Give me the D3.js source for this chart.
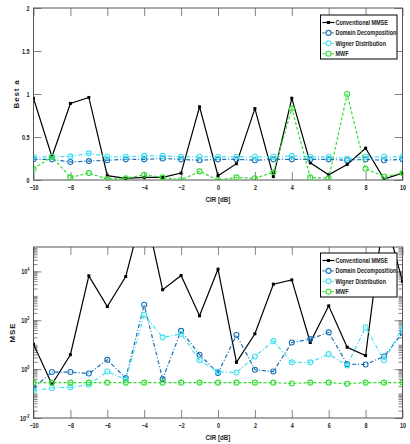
<!DOCTYPE html>
<html>
<head>
<meta charset="utf-8">
<script src="https://cdn.jsdelivr.net/npm/d3@7"></script>
<style>
body { margin: 0; background: #fff; }
svg { display: block; }
text { font-family: "Liberation Sans", Arial, sans-serif; font-weight: bold; fill: #222; }
.tick text { font-size: 7px; }
.lbl { font-size: 8px; }
.leg text { font-size: 7px; }
</style>
</head>
<body>
<svg width="410" height="444"></svg>
<script>
const cir = [-10,-9,-8,-7,-6,-5,-4,-3,-2,-1,0,1,2,3,4,5,6,7,8,9,10]
const seriesNames = ["Conventional MMSE","Domain Decomposition","Wigner Distribution","MWF"]

// best a (top)
const aConv = [0.95,0.27,0.89,0.96,0.05,0.02,0.03,0.03,0.08,0.85,0.05,0.19,0.83,0.04,0.95,0.20,0.06,0.18,0.37,0.01,0.08]
const aDomain = [0.24,0.24,0.21,0.22,0.23,0.24,0.24,0.25,0.24,0.23,0.24,0.24,0.23,0.24,0.24,0.24,0.24,0.23,0.24,0.23,0.24]
const aWigner = [0.27,0.27,0.275,0.31,0.27,0.27,0.28,0.28,0.27,0.27,0.27,0.27,0.27,0.27,0.28,0.27,0.27,0.25,0.27,0.27,0.27]
const aMwf = [0.13,0.27,0.03,0.08,0.01,0.02,0.06,0.03,0.0,0.10,0.0,0.03,0.02,0.09,0.83,0.03,0.02,1.0,0.13,0.04,0.08]

// MSE (bottom)
const mseConv = [10.5,0.24,3.9,6600,365,6200,5e6,1780,6800,152,12300,1.9,28,3000,4500,12.3,390,7.9,3.6,2.5e6,3900]
const mseDomain = [0.17,0.76,0.76,0.66,2.4,0.43,430,0.39,37,3.9,0.69,25,0.94,0.8,12.3,17,32,1.6,1.55,3.3,30]
const mseWigner = [0.13,0.17,0.18,0.23,0.8,0.37,166,20,28,2.3,0.78,0.73,3.3,14,1.9,1.9,4.1,1.4,52,2.3,48]
const mseMwf = [0.28,0.28,0.28,0.28,0.28,0.28,0.28,0.28,0.28,0.28,0.28,0.28,0.28,0.28,0.26,0.28,0.28,0.25,0.28,0.28,0.28]

const xTicks = [-10,-8,-6,-4,-2,0,2,4,6,8,10]
const aTicks = [0,0.5,1,1.5,2]
const mseTicks = [1e-2,1,1e2,1e4]

const colors = ["#000000","#1670b8","#40e0f0","#30dd30"]
const dashes = [null,"4,2,1,2","4,2,1,2","3,2"]

const svg = d3.select("svg")

const x = d3.scaleLinear().domain([-10,10]).range([33.5,402.5])
const yA = d3.scaleLinear().domain([0,2]).range([180,8])
const yM = d3.scaleLog().domain([1e-2,1e5]).range([418,247])

function drawPanel(g, y, series, yTickVals, yFmt, minor, ylabel, legTop, clipId) {
    const [x0,x1] = x.range()
    const [yb,yt] = y.range()

    g.append("clipPath").attr("id",clipId)
        .append("rect").attr("x",x0).attr("y",yt).attr("width",x1-x0).attr("height",yb-yt)

    // minor ticks (log axis)
    if (minor) {
        const mins = []
        for (let e = -2; e < 5; e++) for (let k = 1; k < 10; k++) mins.push(k*Math.pow(10,e))
        g.append("g").attr("transform",`translate(${x0},0)`)
            .call(d3.axisLeft(y).tickValues(mins).tickSize(-4).tickFormat(""))
        g.append("g").attr("transform",`translate(${x1},0)`)
            .call(d3.axisRight(y).tickValues(mins).tickSize(-4).tickFormat(""))
    }

    g.append("g").attr("transform",`translate(0,${yb})`)
        .call(d3.axisBottom(x).tickValues(xTicks).tickSize(-8).tickPadding(5).tickFormat(d3.format("d")))
    g.append("g").attr("transform",`translate(0,${yt})`)
        .call(d3.axisTop(x).tickValues(xTicks).tickSize(-8).tickFormat(""))
    const ya = g.append("g").attr("transform",`translate(${x0},0)`)
        .call(d3.axisLeft(y).tickValues(yTickVals).tickSize(-8).tickPadding(4).tickFormat(yFmt))
    g.append("g").attr("transform",`translate(${x1},0)`)
        .call(d3.axisRight(y).tickValues(yTickVals).tickSize(-8).tickFormat(""))

    g.selectAll(".domain").remove()
    g.selectAll(".tick line").attr("stroke","#666").attr("stroke-width",0.8)

    g.append("rect").attr("x",x0).attr("y",yt).attr("width",x1-x0).attr("height",yb-yt)
        .attr("fill","none").attr("stroke","#555").attr("stroke-width",1)

    if (minor) {
        ya.selectAll(".tick text").each(function(d) {
            const t = d3.select(this).text("")
            t.append("tspan").text("10")
            t.append("tspan").attr("dy",-3).style("font-size","5px").text(Math.round(Math.log10(d)))
        })
    }

    const line = d3.line().x((d,i) => x(cir[i])).y(d => y(d))
    const plot = g.append("g").attr("clip-path",`url(#${clipId})`)

    series.forEach((s,j) => {
        plot.append("path").datum(s).attr("d",line)
            .attr("fill","none").attr("stroke",colors[j]).attr("stroke-width",1.2)
            .attr("stroke-dasharray",dashes[j])
        if (j === 0) {
            plot.selectAll(null).data(s).enter().append("rect")
                .attr("x",(d,i) => x(cir[i])-1.5).attr("y",d => y(d)-1.5)
                .attr("width",3).attr("height",3).attr("fill","#000")
        } else {
            plot.selectAll(null).data(s).enter().append("circle")
                .attr("cx",(d,i) => x(cir[i])).attr("cy",d => y(d)).attr("r",2.5)
                .attr("fill","none").attr("stroke",colors[j]).attr("stroke-width",1.1)
        }
    })

    g.append("text").attr("class","lbl").attr("text-anchor","middle")
        .attr("x",(x0+x1)/2).attr("y",yb+22).text("CIR [dB]")
    g.append("text").attr("class","lbl").attr("text-anchor","middle")
        .attr("transform",`translate(${ylabel[1]},${(yb+yt)/2}) rotate(-90)`)
        .style("letter-spacing","0.8px").text(ylabel[0])

    // legend
    const leg = g.append("g").attr("class","leg").attr("transform",`translate(320.5,${legTop})`)
    leg.append("rect").attr("width",76.5).attr("height",44).attr("fill","#fff").attr("stroke","#000").attr("stroke-width",1)
    seriesNames.forEach((n,j) => {
        const ly = 7.5 + j*10.4
        leg.append("line").attr("x1",2).attr("x2",14).attr("y1",ly).attr("y2",ly)
            .attr("stroke",colors[j]).attr("stroke-width",1.2).attr("stroke-dasharray",dashes[j] ? "2,1" : null)
        if (j === 0) {
            leg.append("rect").attr("x",6.5).attr("y",ly-1.5).attr("width",3).attr("height",3).attr("fill","#000")
        } else {
            leg.append("circle").attr("cx",8).attr("cy",ly).attr("r",2.5)
                .attr("fill","#fff").attr("stroke",colors[j]).attr("stroke-width",1.1)
        }
        leg.append("text").attr("x",15).attr("y",ly+2.5).text(n)
    })
}

drawPanel(svg.append("g"), yA, [aConv,aDomain,aWigner,aMwf], aTicks, d3.format("~g"), false, ["Best a",19], 15, "clipA")
drawPanel(svg.append("g"), yM, [mseConv,mseDomain,mseWigner,mseMwf], mseTicks, null, true, ["MSE",15], 253, "clipM")

// condensed look of the original font: squeeze texts horizontally
svg.selectAll("text").each(function() {
    if (this.getAttribute("transform")) return
    const xv = +this.getAttribute("x") || 0
    d3.select(this).attr("x",0).attr("transform",`translate(${xv},0) scale(0.78,1)`)
})
</script>
</body>
</html>
